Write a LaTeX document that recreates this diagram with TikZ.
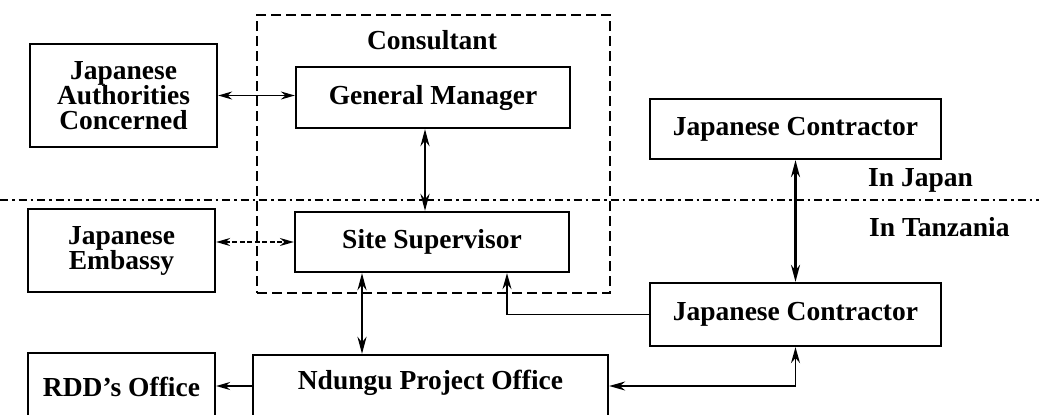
\documentclass[tikz,border=0pt]{standalone}
\usepackage{fontspec}
\setmainfont{Liberation Serif}
\usetikzlibrary{arrows.meta}
\tikzset{
  box/.style={draw, line width=2.3pt, inner sep=0pt, align=center,
    font=\fontsize{27.5}{25}\selectfont\bfseries},
  lbl/.style={inner sep=0pt, font=\fontsize{27.5}{25}\selectfont\bfseries},
  consbox/.style={draw, line width=2.8pt, dash pattern=on 10pt off 5pt, inner sep=0pt},
  sepline/.style={line width=2.4pt, dash pattern=on 8pt off 4pt on 2.5pt off 4pt},
  heavy/.style={line width=2.5pt, {Stealth[length=17pt,width=9pt]}-{Stealth[length=17pt,width=9pt]}},
  light/.style={line width=1.3pt, {Stealth[length=14pt,width=8pt]}-{Stealth[length=14pt,width=8pt]}},
  lightdash/.style={line width=1.3pt, dash pattern=on 5pt off 2.5pt, {Stealth[length=14pt,width=8pt]}-{Stealth[length=14pt,width=8pt]}},
}
\begin{document}
\begin{tikzpicture}[x=1pt,y=-1pt]
\useasboundingbox (0,0) rectangle (1039,415);
\clip (0,0) rectangle (1039,415);
% separator
\coordinate (sl) at (0,200);
\coordinate (sr) at (1039,200);
\draw[sepline] (sl) -- (sr);
% consultant dashed group
\node[consbox, minimum width=353pt, minimum height=278pt] (cons) at (433.5,154) {};
\node[lbl] (conslbl) at (432,40) {Consultant};
% boxes
\node[box, fill=white, minimum width=187pt, minimum height=103pt] (ja) at (123.5,95.5) {Japanese\\Authorities\\Concerned};
\node[box, fill=white, minimum width=274pt, minimum height=61pt] (gm) at (433,97.5) {General Manager};
\node[box, fill=white, minimum width=187pt, minimum height=83pt] (je) at (121.5,250.5) {Japanese\\Embassy};
\node[box, fill=white, minimum width=274pt, minimum height=60pt] (ss) at (432,242) {Site Supervisor};
\node[box, fill=white, minimum width=291pt, minimum height=60pt] (jc1) at (795.5,129) {Japanese Contractor};
\node[box, fill=white, minimum width=291pt, minimum height=63pt] (jc2) at (795.5,314.5) {Japanese Contractor};
\node[box, minimum width=187pt, minimum height=72pt] (rdd) at (121.5,389) {};
\node[lbl] at (121.5,387) {RDD's Office};
\node[box, minimum width=355pt, minimum height=68pt] (nd) at (430.5,389) {};
\node[lbl] at (430.5,383) {Ndungu Project Office};
\node[lbl, anchor=west] (inj) at (868,180) {In Japan};
\node[lbl, anchor=west] (int) at (869,227) {In Tanzania};
% connectors
\draw[light] (ja.east) -- (ja.east -| gm.west);
\draw[lightdash] (ss.west -| je.east) -- (ss.west);
\draw[heavy] ([xshift=-8pt]gm.south) -- ([xshift=-8pt]gm.south |- ss.north);
\draw[heavy] ([xshift=-70pt]ss.south) -- ([xshift=-70pt]ss.south |- nd.north);
\draw[heavy] (jc1.south) -- (jc2.north);
\draw[line width=1.5pt, -{Stealth[length=16pt,width=9pt]}] (jc2.west) -| ([xshift=75pt]ss.south);
\draw[line width=1.7pt, {Stealth[length=16pt,width=9pt]}-{Stealth[length=16pt,width=9pt]}] (nd.east |- 0,386) -| (jc2.south);
\draw[line width=1.5pt, -{Stealth[length=14pt,width=8pt]}] (nd.west |- 0,386) -- (rdd.east |- 0,386);
\end{tikzpicture}
\end{document}
